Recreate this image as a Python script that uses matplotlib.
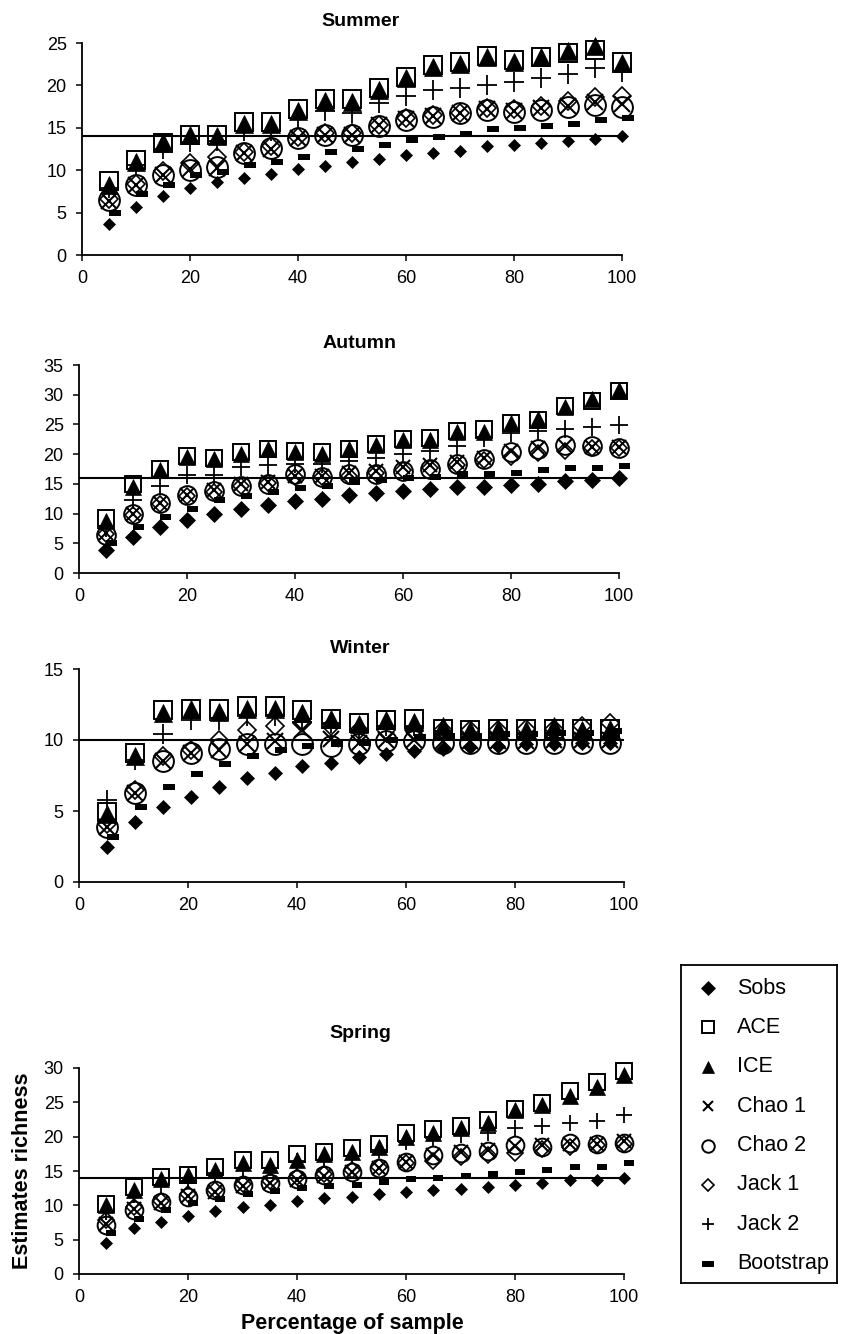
import matplotlib
matplotlib.use("Agg")
import matplotlib.pyplot as plt

plt.rcParams['font.family'] = ['Liberation Sans', 'DejaVu Sans']

# ---------------- data ----------------
pct = [5, 10, 15, 20, 25, 30, 35, 40, 45, 50, 55, 60, 65, 70, 75, 80, 85, 90, 95, 100]
winter_pct = [5.1, 10.3, 15.4, 20.5, 25.6, 30.8, 35.9, 41.0, 46.2, 51.3,
              56.4, 61.5, 66.7, 71.8, 76.9, 82.1, 87.2, 92.3, 97.4]

series_names = ["Sobs", "ACE", "ICE", "Chao 1", "Chao 2", "Jack 1", "Jack 2", "Bootstrap"]
season_names = ["Summer", "Autumn", "Winter", "Spring"]
observed_richness = [14, 16, 10, 14]
y_max = [25, 35, 15, 30]
x_ticks = [0, 20, 40, 60, 80, 100]

summer_sobs = [3.7, 5.7, 6.9, 7.9, 8.6, 9.1, 9.6, 10.1, 10.5, 11.0, 11.3, 11.8, 12.0, 12.3, 12.8, 13.0, 13.2, 13.5, 13.7, 14.0]
summer_ace = [8.7, 11.2, 13.2, 14.2, 14.2, 15.7, 15.7, 17.2, 18.4, 18.4, 19.7, 21.0, 22.4, 22.8, 23.5, 23.0, 23.4, 23.8, 24.2, 22.8]
summer_ice = [8.3, 11.0, 13.3, 14.1, 14.0, 15.5, 15.4, 17.0, 18.2, 18.1, 19.5, 20.9, 22.2, 22.5, 23.4, 22.8, 23.3, 24.1, 24.6, 22.7]
summer_chao1 = [6.4, 8.2, 9.4, 10.1, 10.3, 12.0, 12.5, 13.8, 14.2, 14.2, 15.3, 16.0, 16.4, 16.7, 17.2, 17.0, 17.3, 17.6, 18.1, 17.8]
summer_chao2 = [6.5, 8.3, 9.4, 10.0, 10.4, 12.0, 12.6, 13.8, 14.2, 14.2, 15.2, 15.9, 16.3, 16.7, 17.1, 16.9, 17.1, 17.5, 17.7, 17.5]
summer_jack1 = [6.6, 8.4, 9.9, 10.8, 11.5, 12.2, 12.8, 13.9, 14.4, 14.4, 15.3, 16.1, 16.5, 16.8, 17.3, 17.2, 17.6, 18.2, 18.6, 18.8]
summer_jack2 = [7.9, 10.6, 12.5, 13.3, 13.4, 14.6, 14.6, 16.2, 17.0, 16.8, 17.9, 18.7, 19.4, 19.7, 20.1, 20.4, 20.9, 21.3, 22.0, 21.6]
summer_boot = [4.9, 7.2, 8.3, 9.4, 9.8, 10.6, 11.0, 11.5, 12.2, 12.5, 13.0, 13.6, 13.9, 14.3, 14.8, 15.0, 15.2, 15.4, 15.9, 16.1]

autumn_sobs = [3.9, 6.0, 7.7, 9.0, 10.0, 10.8, 11.5, 12.1, 12.5, 13.2, 13.5, 13.8, 14.1, 14.5, 14.5, 14.8, 15.0, 15.5, 15.6, 16.0]
autumn_ace = [9.2, 15.0, 17.5, 19.7, 19.4, 20.3, 20.8, 20.6, 20.3, 20.8, 21.7, 22.5, 22.8, 23.9, 24.2, 25.3, 25.8, 28.1, 28.9, 30.6]
autumn_ice = [8.7, 14.5, 17.4, 19.6, 19.2, 20.1, 20.8, 20.4, 20.1, 20.8, 21.5, 22.3, 22.4, 23.7, 23.8, 25.3, 25.9, 27.9, 29.2, 30.8]
autumn_chao1 = [6.7, 10.0, 11.7, 13.1, 13.9, 15.0, 15.3, 16.4, 16.4, 16.9, 17.2, 17.8, 18.1, 18.6, 19.4, 20.6, 21.1, 21.4, 21.2, 21.2]
autumn_chao2 = [6.4, 10.0, 11.7, 13.2, 13.8, 14.7, 15.0, 16.6, 16.1, 16.7, 16.7, 17.2, 17.5, 18.3, 19.2, 20.3, 20.8, 21.5, 21.4, 21.1]
autumn_jack1 = [6.6, 9.7, 11.6, 13.0, 13.6, 14.6, 15.1, 16.1, 16.2, 16.4, 16.8, 17.3, 17.6, 18.1, 19.0, 19.5, 20.2, 20.6, 21.0, 21.0]
autumn_jack2 = [7.5, 12.2, 14.7, 16.5, 16.5, 17.8, 18.1, 18.3, 18.3, 18.8, 19.4, 20.0, 20.6, 21.4, 22.8, 23.6, 23.9, 24.3, 24.6, 24.9]
autumn_boot = [5.0, 7.7, 9.4, 10.8, 12.2, 12.9, 13.6, 14.3, 14.6, 15.3, 15.7, 16.0, 16.1, 16.6, 16.6, 16.9, 17.4, 17.7, 17.7, 18.0]

winter_sobs = [2.5, 4.2, 5.3, 6.0, 6.7, 7.3, 7.7, 8.2, 8.4, 8.8, 9.0, 9.2, 9.4, 9.5, 9.6, 9.7, 9.7, 9.8, 9.8]
winter_ace = [4.9, 9.1, 12.1, 12.2, 12.2, 12.4, 12.4, 12.1, 11.5, 11.2, 11.4, 11.5, 10.8, 10.7, 10.8, 10.8, 10.8, 10.8, 10.8]
winter_ice = [4.8, 8.9, 11.9, 12.2, 12.0, 12.2, 12.2, 11.9, 11.5, 11.1, 11.4, 11.3, 11.0, 10.7, 10.8, 10.7, 11.0, 10.7, 10.8]
winter_chao1 = [3.9, 6.3, 8.5, 9.1, 9.3, 9.7, 9.9, 10.7, 10.1, 9.8, 10.0, 10.0, 9.9, 9.9, 9.9, 9.9, 10.0, 10.0, 10.0]
winter_chao2 = [3.9, 6.3, 8.5, 9.1, 9.4, 9.7, 9.7, 9.7, 9.6, 9.7, 9.9, 9.9, 9.8, 9.8, 9.8, 9.8, 9.8, 9.8, 9.8]
winter_jack1 = [4.1, 6.5, 8.9, 9.3, 10.0, 10.7, 11.0, 11.2, 11.0, 10.7, 10.7, 10.7, 10.7, 10.7, 10.7, 10.8, 10.8, 11.0, 11.2]
winter_jack2 = [5.8, 8.6, 10.4, 11.4, 11.4, 11.7, 11.7, 11.3, 11.2, 10.7, 11.0, 11.0, 10.6, 10.4, 10.5, 10.5, 10.5, 10.4, 10.5]
winter_boot = [3.2, 5.3, 6.7, 7.6, 8.3, 8.9, 9.3, 9.6, 9.7, 9.8, 10.0, 10.2, 10.3, 10.3, 10.4, 10.4, 10.5, 10.5, 10.6]

spring_sobs = [4.5, 6.7, 7.6, 8.5, 9.2, 9.8, 10.1, 10.7, 11.1, 11.2, 11.6, 11.9, 12.2, 12.4, 12.7, 12.9, 13.3, 13.7, 13.7, 14.0]
spring_ace = [10.2, 12.7, 14.1, 14.4, 15.6, 16.6, 16.6, 17.5, 17.8, 18.3, 18.9, 20.6, 21.1, 21.6, 22.4, 24.1, 24.9, 26.6, 28.0, 29.5]
spring_ice = [10.1, 12.2, 13.9, 14.4, 15.1, 16.1, 15.9, 16.6, 17.5, 17.7, 18.5, 20.0, 20.6, 21.2, 22.0, 23.9, 24.6, 25.9, 27.2, 29.0]
spring_chao1 = [7.3, 9.4, 10.4, 11.3, 12.0, 12.8, 13.2, 13.7, 14.3, 14.8, 15.5, 16.3, 17.4, 17.7, 18.0, 18.6, 18.8, 19.0, 19.0, 19.3]
spring_chao2 = [7.2, 9.3, 10.5, 11.2, 12.2, 12.9, 13.3, 13.9, 14.4, 14.9, 15.4, 16.3, 17.3, 17.6, 17.9, 18.8, 18.5, 19.1, 18.9, 19.1]
spring_jack1 = [7.8, 9.8, 10.7, 11.6, 12.3, 13.1, 13.6, 14.1, 14.6, 15.1, 15.6, 16.1, 16.5, 17.0, 17.3, 17.6, 18.2, 18.5, 18.8, 19.0]
spring_jack2 = [9.0, 11.5, 12.9, 13.6, 14.7, 15.4, 15.4, 16.5, 16.6, 17.2, 18.0, 19.2, 19.8, 20.3, 20.6, 21.2, 21.5, 22.0, 22.3, 23.2]
spring_boot = [6.0, 8.0, 9.3, 10.3, 10.9, 11.7, 12.1, 12.5, 12.8, 12.9, 13.4, 13.8, 14.0, 14.3, 14.6, 14.9, 15.2, 15.6, 15.6, 16.2]

seasons = [
    (pct, [summer_sobs, summer_ace, summer_ice, summer_chao1, summer_chao2, summer_jack1, summer_jack2, summer_boot]),
    (pct, [autumn_sobs, autumn_ace, autumn_ice, autumn_chao1, autumn_chao2, autumn_jack1, autumn_jack2, autumn_boot]),
    (winter_pct, [winter_sobs, winter_ace, winter_ice, winter_chao1, winter_chao2, winter_jack1, winter_jack2, winter_boot]),
    (pct, [spring_sobs, spring_ace, spring_ice, spring_chao1, spring_chao2, spring_jack1, spring_jack2, spring_boot]),
]

# ---------------- styles ----------------
W, H = 842, 1334
bar_marker = [(0, -0.25), (1, -0.25), (1, 0.25), (0, 0.25), (0, -0.25)]
bar_marker_c = [(-1, -0.6), (1, -0.6), (1, 0.6), (-1, 0.6), (-1, -0.6)]

styles = {
    "Sobs": dict(marker='D', mfc='black', mec='black', mew=0.5),
    "ACE": dict(marker='s', mfc='none', mec='black', mew=1.4),
    "ICE": dict(marker='^', mfc='black', mec='black', mew=0.5),
    "Chao 1": dict(marker='x', mec='black', mew=1.5),
    "Chao 2": dict(marker='o', mfc='none', mec='black', mew=1.4),
    "Jack 1": dict(marker='D', mfc='none', mec='black', mew=1.2),
    "Jack 2": dict(marker='+', mec='black', mew=1.3),
    "Bootstrap": dict(marker=bar_marker, mfc='black', mec='black', mew=0),
}
base_ms = {"Sobs": 6.8, "ACE": 13, "ICE": 13, "Chao 1": 11.5, "Chao 2": 15,
           "Jack 1": 9.2, "Jack 2": 14, "Bootstrap": 17.3}
panel_scale = [1.0, 0.9, 1.0, 0.85]
sobs_ms = [6.6, 8.5, 6.8, 6.3]

# axes boxes in pixels: left, right, top(ymax), bottom(y=0)
boxes = [(82, 622, 43, 255), (79, 619, 365, 573), (79, 624, 669, 882), (79, 624, 1068, 1274)]
title_y = [22, 343, 648, 1033]

fig = plt.figure(figsize=(W / 100, H / 100), dpi=100)

for i, (xs, vals) in enumerate(seasons):
    l, r, t, b = boxes[i]
    ax = fig.add_axes([l / W, 1 - b / H, (r - l) / W, (b - t) / H])
    for name, v in zip(series_names, vals):
        st = dict(styles[name])
        ms = base_ms[name] * panel_scale[i]
        if name == "Sobs":
            ms = sobs_ms[i]
        ax.plot(xs, v, linestyle='none', ms=ms, zorder=3, clip_on=False, **st)
    ax.axhline(observed_richness[i], color='black', lw=1.5, zorder=2)
    ax.set_xlim(0, 100)
    ax.set_ylim(0, y_max[i])
    ax.set_xticks(x_ticks)
    ax.set_yticks(range(0, y_max[i] + 1, 5))
    for s in ['top', 'right']:
        ax.spines[s].set_visible(False)
    for s in ['left', 'bottom']:
        ax.spines[s].set_linewidth(1.3)
    ax.tick_params(direction='out', length=4, width=1.1, labelsize=13, pad=7)
    fig.text(360 / W, 1 - title_y[i] / H, season_names[i], ha='center', va='center',
             fontsize=14, fontweight='bold')

fig.text(23 / W, 1 - 1171 / H, "Estimates richness", rotation=90, ha='center', va='center',
         fontsize=15.5, fontweight='bold')
fig.text(352 / W, 1 - 1323 / H, "Percentage of sample", ha='center', va='center',
         fontsize=15.5, fontweight='bold')

# ---------------- legend box ----------------
lg_l, lg_r, lg_t, lg_b = 681, 837, 965, 1283
lax = fig.add_axes([lg_l / W, 1 - lg_b / H, (lg_r - lg_l) / W, (lg_b - lg_t) / H])
lax.set_xlim(0, lg_r - lg_l)
lax.set_ylim(lg_b - lg_t, 0)
lax.set_xticks([])
lax.set_yticks([])
for s in lax.spines.values():
    s.set_linewidth(1.3)
leg_ms = {"Sobs": 7.0, "ACE": 8.5, "ICE": 9.0, "Chao 1": 7.5, "Chao 2": 9.0,
          "Jack 1": 6.5, "Jack 2": 9.0, "Bootstrap": 8.0}
for k, name in enumerate(series_names):
    yk = 23 + 39.4 * k
    st = dict(styles[name])
    if name == "Bootstrap":
        st["marker"] = bar_marker_c
    lax.plot([27], [yk], linestyle='none', ms=leg_ms[name], **st)
    lax.text(56, yk, name, ha='left', va='center', fontsize=15.5)

fig.savefig("out.png", dpi=100)
